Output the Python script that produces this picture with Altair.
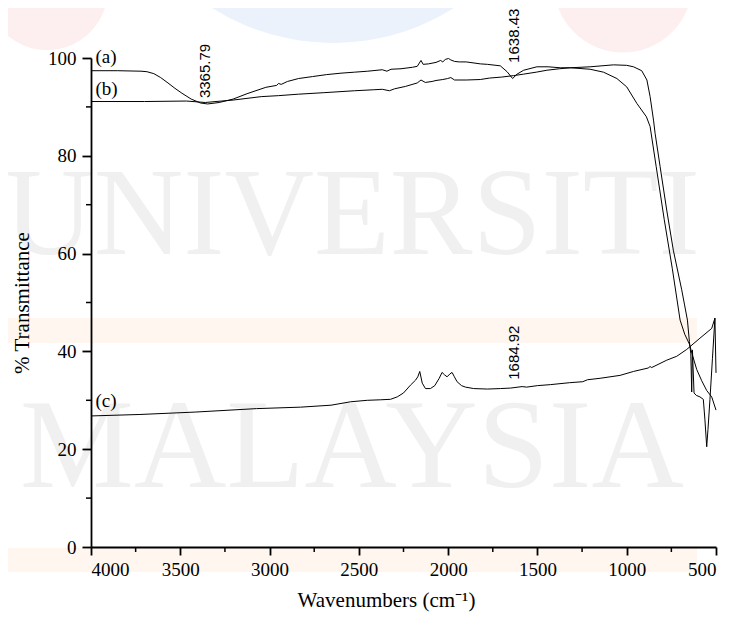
import altair as alt
import pandas as pd

# ---------------- data ----------------
wn_a = [4000, 3850, 3720, 3687, 3648, 3610, 3569, 3530, 3491, 3439, 3387, 3347, 3282, 3204, 3126,
        3021, 2960, 2950, 2935, 2900, 2838, 2760, 2682, 2600, 2525, 2450, 2369, 2343, 2320, 2264,
        2200, 2173, 2152, 2140, 2110, 2068, 2042, 2030, 2016, 1998, 1985, 1964, 1938, 1899, 1820,
        1780, 1708, 1670, 1639, 1614, 1577, 1503, 1440, 1372, 1316, 1205, 1130, 1055, 1000, 943,
        890, 869, 835, 790, 745, 701, 675, 649, 630, 608, 580, 552, 524, 500]
tr_a = [97.4, 97.4, 97.3, 97.2, 96.8, 96.0, 94.9, 93.8, 92.8, 91.6, 90.8, 90.6, 90.9, 91.6, 92.7,
        94.0, 94.4, 94.8, 94.6, 95.2, 95.8, 96.2, 96.6, 96.9, 97.1, 97.3, 97.6, 97.3, 97.7, 97.8,
        98.1, 98.3, 99.5, 98.7, 98.8, 99.1, 99.5, 99.2, 99.7, 99.9, 99.6, 99.3, 99.2, 99.2, 98.8,
        98.7, 98.4, 97.2, 95.8, 96.7, 97.5, 98.2, 98.2, 98.0, 98.0, 97.7, 97.1, 95.8, 94.1, 90.7,
        88.0, 86.0, 77.8, 67.0, 57.0, 46.4, 43.5, 41.5, 39.0, 36.3, 34.0, 32.0, 30.7, 28.0]

wn_b = [4000, 3700, 3465, 3360, 3300, 3204, 3047, 2950, 2838, 2700, 2525, 2420, 2369, 2329, 2300,
        2238, 2173, 2152, 2128, 2090, 2068, 2030, 2003, 1985, 1964, 1899, 1820, 1768, 1700, 1633,
        1577, 1507, 1447, 1377, 1316, 1205, 1074, 1000, 962, 916, 887, 869, 850, 841, 813, 776,
        739, 692, 676, 660, 649, 641, 636, 632, 623, 610, 590, 571, 562, 552, 545, 534, 520, 506, 500]
tr_b = [91.1, 91.1, 91.2, 90.9, 91.1, 91.4, 92.1, 92.3, 92.6, 92.9, 93.3, 93.5, 93.6, 93.3, 93.7,
        94.2, 94.9, 95.5, 95.0, 95.2, 95.4, 95.6, 95.8, 96.0, 95.5, 95.5, 95.6, 95.9, 96.1, 96.4,
        96.7, 97.1, 97.5, 97.8, 98.0, 98.2, 98.6, 98.5, 98.2, 97.4, 95.5, 92.1, 87.3, 84.6, 77.8, 68.9,
        60.7, 52.6, 49.5, 46.4, 42.0, 39.5, 31.7, 40.3, 31.5, 31.0, 30.7, 30.2, 26.0, 20.5, 24.0, 30.1,
        38.5, 46.8, 35.6]

wn_c = [4000, 3726, 3413, 3073, 2826, 2656, 2546, 2453, 2380, 2323, 2285, 2250, 2211, 2183, 2170,
        2159, 2145, 2127, 2099, 2075, 2050, 2034, 2020, 2006, 1990, 1978, 1965, 1950, 1925, 1903,
        1857, 1780, 1708, 1650, 1586, 1560, 1500, 1428, 1320, 1246, 1220, 1149, 1037, 962, 880,
        869, 860, 776, 720, 664, 590, 524, 506]
tr_c = [26.8, 27.1, 27.6, 28.3, 28.6, 29.0, 29.7, 30.0, 30.1, 30.2, 30.7, 31.5, 33.1, 34.1, 34.8,
        35.9, 33.5, 32.4, 32.4, 33.0, 34.5, 35.7, 35.2, 34.8, 35.4, 35.7, 34.8, 33.8, 33.0, 32.7,
        32.4, 32.3, 32.4, 32.5, 32.8, 32.7, 33.0, 33.2, 33.6, 33.8, 34.2, 34.5, 35.1, 35.9, 36.6,
        36.9, 36.7, 38.2, 39.0, 40.4, 42.7, 44.7, 46.8]

peak_labels = ["3365.79", "1638.43", "1684.92"]
peak_wn = [3363, 1632, 1634]
peak_tr = [91.8, 99.0, 34.2]

curve_labels = ["(a)", "(b)", "(c)"]
curve_label_wn = [3975, 3975, 3975]
curve_label_tr = [100.3, 93.7, 29.8]

x_ticks = [4000, 3500, 3000, 2500, 2000, 1500, 1000, 500]
x_minor = [3750, 3250, 2750, 2250, 1750, 1250, 750]
y_ticks = [0, 20, 40, 60, 80, 100]
y_minor = [10, 30, 50, 70, 90]

# ---------------- tables ----------------
rows = []
for name, ws, ts in (("a", wn_a, tr_a), ("b", wn_b, tr_b), ("c", wn_c, tr_c)):
    for i, (w, t) in enumerate(zip(ws, ts)):
        rows.append({"series": name, "idx": i, "w": w, "t": t})
df = pd.DataFrame(rows)
ann = pd.DataFrame({"w": peak_wn, "t": peak_tr, "label": peak_labels})
lab = pd.DataFrame({"w": curve_label_wn, "t": curve_label_tr, "label": curve_labels})
xm = pd.DataFrame({"w": x_minor})
ym = pd.DataFrame({"t": y_minor})
dummy = pd.DataFrame({"k": [0]})

W, H = 625, 489
SERIF = "Liberation Serif"

xscale = alt.Scale(domain=[500, 4000], reverse=True, nice=False, zero=False)
yscale = alt.Scale(domain=[0, 100], nice=False)

axis_common = dict(
    grid=False, zindex=2,
    domainColor="black", domainWidth=1.8,
    tickColor="black", tickWidth=1.8,
    labelFont=SERIF, labelFontSize=19, labelColor="black",
    titleFont=SERIF, titleFontSize=21, titleFontWeight="normal", titleColor="black",
)
xaxis = alt.Axis(values=x_ticks, title="Wavenumbers (cm⁻¹)", tickSize=8, labelPadding=5,
                 titlePadding=10, titleX=295, titleAlign="center", format="d", **axis_common)
yaxis = alt.Axis(values=y_ticks, title="% Transmittance", tickSize=9, labelPadding=6,
                 titlePadding=15, **axis_common)

# ---------------- watermark decoration ----------------
WM = "#f0f0f0"
circ_blue = alt.Chart(dummy).mark_point(shape="circle", filled=True, opacity=1, color="#ebf2fb",
                                        size=206000).encode(x=alt.value(242), y=alt.value(-242))
circ_red1 = alt.Chart(dummy).mark_point(shape="circle", filled=True, opacity=1, color="#fdeff0",
                                        size=14900).encode(x=alt.value(-44), y=alt.value(-69))
circ_red2 = alt.Chart(dummy).mark_point(shape="circle", filled=True, opacity=1, color="#fdeff0",
                                        size=19300).encode(x=alt.value(532), y=alt.value(-75))
band1 = alt.Chart(dummy).mark_rect(color="#fef6ef").encode(
    x=alt.value(-91), x2=alt.value(606), y=alt.value(260), y2=alt.value(285))
band2 = alt.Chart(dummy).mark_rect(color="#fef6ef").encode(
    x=alt.value(-91), x2=alt.value(606), y=alt.value(490), y2=alt.value(514))
wm1 = alt.Chart(dummy).mark_text(text="UNIVERSITI", font=SERIF, fontSize=124,
                                 color=WM, align="center", baseline="alphabetic").encode(
    x=alt.value(261), y=alt.value(196))
wm2 = alt.Chart(dummy).mark_text(text="MALAYSIA", font=SERIF, fontSize=128,
                                 color=WM, align="center", baseline="alphabetic").encode(
    x=alt.value(261), y=alt.value(429))

# ---------------- chart ----------------
lines = alt.Chart(df).mark_line(color="black", strokeWidth=1).encode(
    x=alt.X("w:Q", scale=xscale, axis=xaxis),
    y=alt.Y("t:Q", scale=yscale, axis=yaxis),
    detail="series:N",
    order="idx:Q",
)

ann_text = alt.Chart(ann).mark_text(angle=270, align="left", baseline="middle",
                                    font="Liberation Sans", fontSize=15, color="black").encode(
    x=alt.X("w:Q", scale=xscale), y=alt.Y("t:Q", scale=yscale), text="label:N")

lab_text = alt.Chart(lab).mark_text(align="left", baseline="middle",
                                    font=SERIF, fontSize=19, color="black").encode(
    x=alt.X("w:Q", scale=xscale), y=alt.Y("t:Q", scale=yscale), text="label:N")

xminor = alt.Chart(xm).mark_rule(color="black", strokeWidth=1.5).encode(
    x=alt.X("w:Q", scale=xscale), y=alt.value(H), y2=alt.value(H + 5))
yminor = alt.Chart(ym).mark_rule(color="black", strokeWidth=1.5).encode(
    y=alt.Y("t:Q", scale=yscale), x=alt.value(0), x2=alt.value(-5))

chart = alt.layer(
    circ_blue, circ_red1, circ_red2, band1, band2, wm1, wm2,
    lines, ann_text, lab_text, xminor, yminor,
).properties(
    width=W, height=H,
    autosize=alt.AutoSizeParams(type="none"),
    padding={"left": 83, "top": 50, "right": 7, "bottom": 65},
    background="white",
).configure_view(stroke=None)

chart.save("out.html", embed_options={"renderer": "svg", "actions": False})
